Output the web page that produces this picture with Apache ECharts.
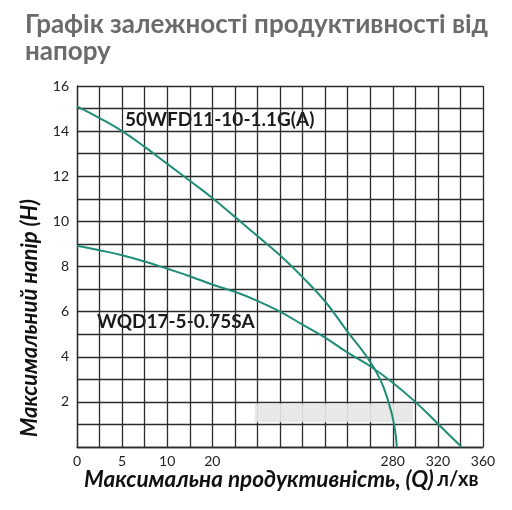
<!DOCTYPE html>
<html>
<head>
<meta charset="utf-8">
<script src="https://cdn.jsdelivr.net/npm/echarts@6/dist/echarts.min.js"></script>
<style>
  html, body { margin: 0; padding: 0; background: #fff; }
  #chart { width: 512px; height: 510px; }
</style>
</head>
<body>
<div id="chart"></div>
<script>
// позиції підписів осі X (в клітинках сітки) та їх текст
var xTickPos = [0, 2, 4, 6, 14, 16, 18];
var xTickText = ['0', '5', '10', '20', '280', '320', '360'];
var yTickText = ['2', '4', '6', '8', '10', '12', '14', '16'];

// 50WFD11-10-1.1G(A)
var qA = [0, 1, 2, 3, 4, 5, 6, 7, 8, 9, 10, 11, 12, 12.85, 13.44, 13.81, 14.06, 14.18];
var hA = [15.1, 14.58, 14.0, 13.3, 12.55, 11.8, 11.04, 10.2, 9.35, 8.5, 7.53, 6.45, 5.1, 4, 3, 2, 1, 0];

// WQD17-5-0.75SA
var qB = [0, 1, 2, 3, 4, 5, 6, 7, 8, 9, 10, 11, 12, 13, 14, 15, 16, 17.05];
var hB = [8.92, 8.72, 8.5, 8.22, 7.9, 7.57, 7.2, 6.88, 6.48, 6.0, 5.42, 4.85, 4.18, 3.58, 2.85, 2.0, 1.03, 0];

var nameA = '50WFD11-10-1.1G(A)';
var nameB = 'WQD17-5-0.75SA';

function pairs(xs, ys) {
  var out = [];
  for (var i = 0; i < xs.length; i++) out.push([xs[i], ys[i]]);
  return out;
}

var lineColor = '#1f8c78';
var gridColor = '#2b2b2b';

var option = {
  backgroundColor: '#fff',
  animation: false,
  title: {
    text: 'Графік залежності продуктивності від\nнапору',
    left: 20,
    top: 6,
    textStyle: {
      color: '#6b6b6b',
      fontFamily: 'Lato',
      fontWeight: 'bold',
      fontSize: 26,
      lineHeight: 27
    }
  },
  grid: {
    left: 77,
    right: 29,
    top: 86,
    bottom: 63
  },
  xAxis: {
    type: 'value',
    min: 0,
    max: 18,
    interval: 1,
    axisLine: { show: true, lineStyle: { color: gridColor, width: 1.3 } },
    axisTick: { show: false },
    splitLine: { show: true, lineStyle: { color: gridColor, width: 1.3 } },
    axisLabel: {
      margin: 7,
      color: '#222',
      fontFamily: 'Lato',
      fontSize: 14,
      formatter: function (v) {
        var i = xTickPos.indexOf(v);
        return i == -1 ? '' : xTickText[i];
      }
    }
  },
  yAxis: {
    type: 'value',
    min: 0,
    max: 16,
    interval: 1,
    axisLine: { show: true, lineStyle: { color: gridColor, width: 1.3 } },
    axisTick: { show: false },
    splitLine: { show: true, lineStyle: { color: gridColor, width: 1.3 } },
    axisLabel: {
      margin: 8,
      color: '#222',
      fontFamily: 'Lato',
      fontSize: 14,
      formatter: function (v) {
        return yTickText.indexOf(String(v)) == -1 ? '' : String(v);
      }
    }
  },
  graphic: [
    {
      type: 'text',
      x: 30,
      y: 318,
      rotation: Math.PI / 2,
      style: {
        text: 'Максимальний напір (Н)',
        fill: '#111',
        font: 'italic bold 22px Lato',
        textAlign: 'center',
        textVerticalAlign: 'middle'
      }
    },
    {
      type: 'text',
      x: 84,
      y: 480,
      style: {
        text: '{a|Максимальна продуктивність, (Q)} {b|л/хв}',
        rich: {
          a: { fill: '#111', fontFamily: 'Lato', fontStyle: 'italic', fontWeight: 'bold', fontSize: 22.5 },
          b: { fill: '#111', fontFamily: 'Lato', fontWeight: 'bold', fontSize: 20 }
        },
        textVerticalAlign: 'middle'
      }
    },
    {
      type: 'text',
      x: 125,
      y: 120,
      style: {
        text: nameA,
        fill: '#1a1a1a',
        font: 'bold 19px Lato',
        textVerticalAlign: 'middle'
      }
    },
    {
      type: 'text',
      x: 97,
      y: 322,
      style: {
        text: nameB,
        fill: '#1a1a1a',
        font: 'bold 19px Lato',
        textVerticalAlign: 'middle'
      }
    }
  ],
  series: [
    {
      name: nameA,
      type: 'line',
      data: pairs(qA, hA),
      smooth: 0.45,
      showSymbol: false,
      lineStyle: { color: lineColor, width: 2 },
      // сіра пляма поверх сітки, як на оригіналі
      markArea: {
        silent: true,
        itemStyle: { color: '#e6e6e6', opacity: 0.92 },
        data: [[{ coord: [7.88, 1.93] }, { coord: [14.9, 1.1] }]]
      }
    },
    {
      name: nameB,
      type: 'line',
      data: pairs(qB, hB),
      smooth: 0.45,
      showSymbol: false,
      lineStyle: { color: lineColor, width: 2 }
    }
  ]
};

var myChart = echarts.init(document.getElementById('chart'));
myChart.setOption(option);
</script>
</body>
</html>
